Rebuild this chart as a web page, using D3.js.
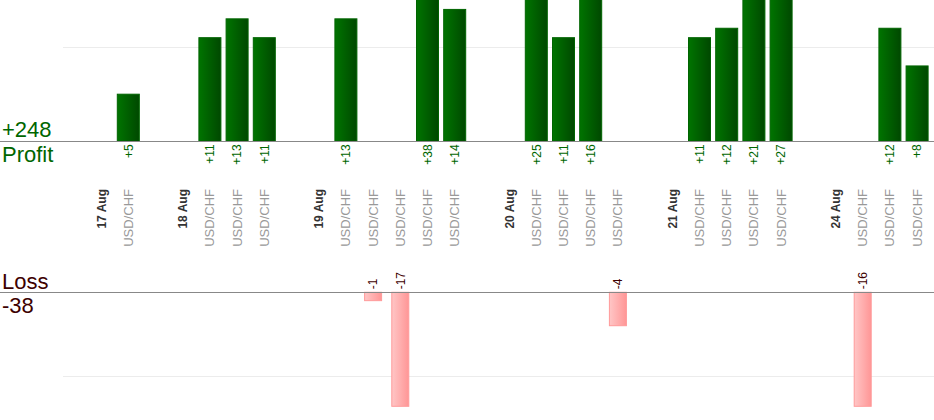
<!DOCTYPE html>
<html>
<head>
<meta charset="utf-8">
<script src="https://cdn.jsdelivr.net/npm/d3@7"></script>
<style>
  html, body { margin: 0; padding: 0; background: #fff; }
  svg { display: block; font-family: "Liberation Sans", Arial, sans-serif; }
</style>
</head>
<body>
<svg id="chart" width="934" height="420"></svg>
<script>
// ---- data ----
const days = ["17 Aug", "18 Aug", "19 Aug", "20 Aug", "21 Aug", "24 Aug"];
const tradeDay = [0, 1, 1, 1, 2, 2, 2, 2, 2, 3, 3, 3, 3, 4, 4, 4, 4, 5, 5, 5];
const tradeSymbol = ["USD/CHF", "USD/CHF", "USD/CHF", "USD/CHF", "USD/CHF", "USD/CHF", "USD/CHF",
  "USD/CHF", "USD/CHF", "USD/CHF", "USD/CHF", "USD/CHF", "USD/CHF", "USD/CHF", "USD/CHF",
  "USD/CHF", "USD/CHF", "USD/CHF", "USD/CHF", "USD/CHF"];
const tradeResult = [5, 11, 13, 11, 13, -1, -17, 38, 14, 25, 11, 16, -4, 11, 12, 21, 27, -16, 12, 8];
const gridValues = [10];

const totalProfit = d3.sum(tradeResult.filter(v => v > 0));
const totalLoss = d3.sum(tradeResult.filter(v => v < 0));

// build slots: [gap], day label, trades...
const slots = [];
days.forEach((d, di) => {
  if (di > 0) slots.push({ key: "gap" + di, type: "gap" });
  slots.push({ key: "day" + di, type: "day", label: d });
  tradeResult.forEach((v, ti) => {
    if (tradeDay[ti] === di) slots.push({ key: "t" + ti, type: "trade", label: tradeSymbol[ti], value: v });
  });
});

const svg = d3.select("#chart");
const W = 934;

const x = d3.scaleBand().domain(slots.map(s => s.key)).range([87.5, 930.7]).padding(0);
const bw = x.bandwidth();
const cx = k => x(k) + bw / 2;

const yP = d3.scaleLinear().domain([0, 15]).range([141.3, 0]);
const yL = d3.scaleLinear().domain([0, 13.65]).range([292.3, 406.3]).clamp(true);

// gradients
const defs = svg.append("defs");
const gP = defs.append("linearGradient").attr("id", "gP").attr("x1", 0).attr("x2", 1).attr("y1", 0).attr("y2", 0);
gP.append("stop").attr("offset", "0%").attr("stop-color", "#007400");
gP.append("stop").attr("offset", "100%").attr("stop-color", "#004800");
const gL = defs.append("linearGradient").attr("id", "gL").attr("x1", 0).attr("x2", 1).attr("y1", 0).attr("y2", 0);
gL.append("stop").attr("offset", "0%").attr("stop-color", "#ffc6c6");
gL.append("stop").attr("offset", "100%").attr("stop-color", "#ff9696");

// gridlines
svg.append("g").selectAll("line.gp").data(gridValues).join("line")
  .attr("x1", 63).attr("x2", W)
  .attr("y1", d => Math.round(yP(d)) + 0.5).attr("y2", d => Math.round(yP(d)) + 0.5)
  .attr("stroke", "#ececec").attr("stroke-width", 1);
svg.append("g").selectAll("line.gl").data(gridValues).join("line")
  .attr("x1", 63).attr("x2", W)
  .attr("y1", d => Math.round(yL(d)) + 0.5).attr("y2", d => Math.round(yL(d)) + 0.5)
  .attr("stroke", "#ececec").attr("stroke-width", 1);

const trades = slots.filter(s => s.type === "trade");
const profits = trades.filter(s => s.value > 0);
const losses = trades.filter(s => s.value < 0);

// profit bars
const pw = 22;
svg.append("g").selectAll("rect").data(profits).join("rect")
  .attr("x", d => cx(d.key) - pw / 2)
  .attr("y", d => yP(d.value))
  .attr("width", pw)
  .attr("height", d => yP(0) - yP(d.value))
  .attr("fill", "url(#gP)")
  .attr("stroke", "#006400").attr("stroke-width", 1);

// loss bars
const lw = 17;
svg.append("g").selectAll("rect").data(losses).join("rect")
  .attr("x", d => cx(d.key) - lw / 2)
  .attr("y", yL(0))
  .attr("width", lw)
  .attr("height", d => yL(-d.value) - yL(0))
  .attr("fill", "url(#gL)")
  .attr("stroke", "#ff9a9a").attr("stroke-width", 1);

// baselines
svg.append("line").attr("x1", 0).attr("x2", W).attr("y1", 141.5).attr("y2", 141.5)
  .attr("stroke", "#888").attr("stroke-width", 1);
svg.append("line").attr("x1", 0).attr("x2", W).attr("y1", 292.5).attr("y2", 292.5)
  .attr("stroke", "#888").attr("stroke-width", 1);

// value labels
svg.append("g").selectAll("text").data(profits).join("text")
  .attr("transform", d => `translate(${cx(d.key) + 4.3},${yP(0) + 3}) rotate(-90)`)
  .attr("text-anchor", "end")
  .attr("font-size", 12)
  .attr("fill", "#006600")
  .text(d => "+" + d.value);
svg.append("g").selectAll("text").data(losses).join("text")
  .attr("transform", d => `translate(${cx(d.key) + 4.3},${yL(0) - 3}) rotate(-90)`)
  .attr("text-anchor", "start")
  .attr("font-size", 12)
  .attr("fill", "#3d0000")
  .text(d => String(d.value));

// category labels
svg.append("g").selectAll("text").data(slots.filter(s => s.type !== "gap")).join("text")
  .attr("transform", d => `translate(${cx(d.key) + 4.5},189) rotate(-90)`)
  .attr("text-anchor", "end")
  .attr("font-size", d => d.type === "day" ? 12 : 13)
  .attr("font-weight", d => d.type === "day" ? "bold" : "normal")
  .attr("fill", d => d.type === "day" ? "#333" : "#999")
  .text(d => d.label);

// totals
svg.append("text").attr("x", 2).attr("y", 137).attr("font-size", 22).attr("fill", "#006600")
  .text("+" + totalProfit);
svg.append("text").attr("x", 2).attr("y", 162).attr("font-size", 22).attr("fill", "#006600")
  .text("Profit");
svg.append("text").attr("x", 2).attr("y", 289).attr("font-size", 22).attr("fill", "#3d0000")
  .text("Loss");
svg.append("text").attr("x", 2).attr("y", 313).attr("font-size", 22).attr("fill", "#3d0000")
  .text(String(totalLoss));
</script>
</body>
</html>
